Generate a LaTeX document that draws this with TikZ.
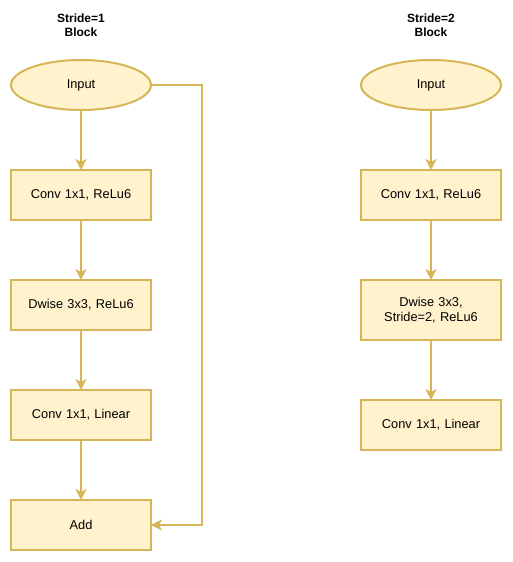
\documentclass[tikz,border=0pt]{standalone}
\usepackage{fontspec}
\setmainfont{Liberation Sans}
\usetikzlibrary{%
	positioning,
	arrows.meta,
	shapes.geometric
}
\definecolor{boxfill}{HTML}{FFF2CC}
\definecolor{boxline}{HTML}{D6B656}

\begin{document}
\begin{tikzpicture}[x=1pt,y=1pt,
		SBlock/.style={draw=boxline,fill=boxfill,line width=2pt,shape=rectangle,minimum width=140pt,minimum height=50pt,text width=120pt,align=center,inner sep=0pt,outer sep=0pt,font=\fontsize{12.8}{15}\selectfont},
		SInput/.style={draw=boxline,fill=boxfill,line width=2pt,shape=ellipse,minimum width=140pt,minimum height=50pt,inner sep=0pt,outer sep=0pt,font=\fontsize{12.8}{15}\selectfont},
		title/.style={align=center,font=\fontsize{12}{14}\selectfont\bfseries},
		flow/.style={draw=boxline,line width=2pt,-{Stealth[length=11pt,width=11pt,inset=3pt]}}
	]
	\useasboundingbox (0,0) rectangle (512,-562);
	
		% stride 1
		\node(t1) [title] at (81,-25) {Stride=1\\Block};
		\node(in1) [SInput] at (81,-85) {Input};
		\node(conv1) [SBlock, below=60pt of in1] {Conv 1x1, ReLu6};
		\node(dw1) [SBlock, below=60pt of conv1] {Dwise 3x3, ReLu6};
		\node(lin1) [SBlock, below=60pt of dw1] {Conv 1x1, Linear};
		\node(add1) [SBlock, below=60pt of lin1] {Add};
		\draw [flow] (in1) -- (conv1);
		\draw [flow] (conv1) -- (dw1);
		\draw [flow] (dw1) -- (lin1);
		\draw [flow] (lin1) -- (add1);
		\draw [flow] (in1.east) -- ++(51,0) |- (add1.east);
		
		% stride 2
		\node(t2) [title] at (431,-25) {Stride=2\\Block};
		\node(in2) [SInput] at (431,-85) {Input};
		\node(conv2) [SBlock, below=60pt of in2] {Conv 1x1, ReLu6};
		\node(dw2) [SBlock, below=60pt of conv2, minimum height=60pt] {Dwise 3x3,\\Stride=2, ReLu6};
		\node(lin2) [SBlock, below=60pt of dw2] {Conv 1x1, Linear};
		\draw [flow] (in2) -- (conv2);
		\draw [flow] (conv2) -- (dw2);
		\draw [flow] (dw2) -- (lin2);
		
	\end{tikzpicture}
\end{document}
